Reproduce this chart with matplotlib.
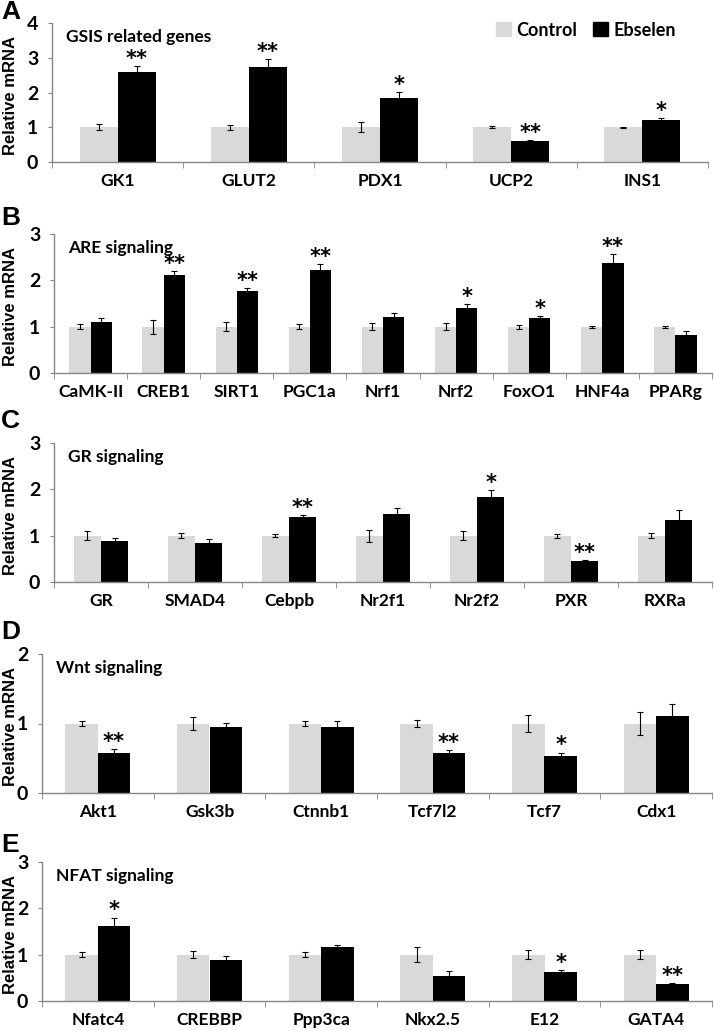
import numpy as np
import matplotlib.pyplot as plt
from matplotlib.patches import Patch

W, H = 714, 1031

# ---- data ----
genes_a = ['GK1', 'GLUT2', 'PDX1', 'UCP2', 'INS1']
ctrl_a = [1, 1, 1, 1, 1]
ctrl_err_a = [0.08, 0.07, 0.14, 0.03, 0.02]
ebs_a = [2.59, 2.73, 1.85, 0.59, 1.22]
ebs_err_a = [0.17, 0.23, 0.17, 0.04, 0.05]
sig_a = ['**', '**', '*', '**', '*']

genes_b = ['CaMK-II', 'CREB1', 'SIRT1', 'PGC1a', 'Nrf1', 'Nrf2', 'FoxO1', 'HNF4a', 'PPARg']
ctrl_b = [1, 1, 1, 1, 1, 1, 1, 1, 1]
ctrl_err_b = [0.05, 0.15, 0.1, 0.06, 0.07, 0.07, 0.04, 0.02, 0.02]
ebs_b = [1.09, 2.12, 1.77, 2.23, 1.2, 1.41, 1.19, 2.38, 0.82]
ebs_err_b = [0.1, 0.08, 0.06, 0.12, 0.1, 0.07, 0.03, 0.18, 0.08]
sig_b = ['', '**', '**', '**', '', '*', '*', '**', '']

genes_c = ['GR', 'SMAD4', 'Cebpb', 'Nr2f1', 'Nr2f2', 'PXR', 'RXRa']
ctrl_c = [1, 1, 1, 1, 1, 1, 1]
ctrl_err_c = [0.09, 0.05, 0.03, 0.13, 0.1, 0.04, 0.05]
ebs_c = [0.88, 0.84, 1.4, 1.47, 1.83, 0.45, 1.34]
ebs_err_c = [0.06, 0.08, 0.04, 0.12, 0.16, 0.03, 0.22]
sig_c = ['', '', '**', '', '*', '**', '']

genes_d = ['Akt1', 'Gsk3b', 'Ctnnb1', 'Tcf7l2', 'Tcf7', 'Cdx1']
ctrl_d = [1, 1, 1, 1, 1, 1]
ctrl_err_d = [0.04, 0.1, 0.04, 0.05, 0.12, 0.16]
ebs_d = [0.58, 0.95, 0.95, 0.57, 0.53, 1.11]
ebs_err_d = [0.05, 0.06, 0.09, 0.05, 0.05, 0.17]
sig_d = ['**', '', '', '**', '*', '']

genes_e = ['Nfatc4', 'CREBBP', 'Ppp3ca', 'Nkx2.5', 'E12', 'GATA4']
ctrl_e = [1, 1, 1, 1, 1, 1]
ctrl_err_e = [0.06, 0.07, 0.05, 0.16, 0.1, 0.09]
ebs_e = [1.61, 0.88, 1.16, 0.53, 0.62, 0.36]
ebs_err_e = [0.19, 0.1, 0.05, 0.12, 0.04, 0.03]
sig_e = ['*', '', '', '', '*', '**']

ctrl_color = '#d9d9d9'
ebs_color = '#000000'
axis_color = '#868686'
label_font = 'Lato'
arial = 'Liberation Sans'

fig = plt.figure(figsize=(W / 100, H / 100), dpi=100)


def px(x, y):
    return x / W, 1 - y / H


# panel boxes in pixels: left, right, top (ymax), bottom (y=0)
panels = [
    ('A', 'GSIS related genes', genes_a, ctrl_a, ctrl_err_a, ebs_a, ebs_err_a, sig_a, 4, (52, 708, 23, 162)),
    ('B', 'ARE signaling', genes_b, ctrl_b, ctrl_err_b, ebs_b, ebs_err_b, sig_b, 3, (54, 712, 234, 373)),
    ('C', 'GR signaling', genes_c, ctrl_c, ctrl_err_c, ebs_c, ebs_err_c, sig_c, 3, (54, 712, 443, 582)),
    ('D', 'Wnt signaling', genes_d, ctrl_d, ctrl_err_d, ebs_d, ebs_err_d, sig_d, 2, (42, 712, 654, 793)),
    ('E', 'NFAT signaling', genes_e, ctrl_e, ctrl_err_e, ebs_e, ebs_err_e, sig_e, 3, (42, 712, 862, 1001)),
]
letter_y = [12, 218, 421, 632, 845]

bw = 0.29
for k, (letter, title, genes, ctrl, cerr, ebs, eerr, sig, ymax, box) in enumerate(panels):
    l, r, t, b = box
    ax = fig.add_axes([l / W, 1 - b / H, (r - l) / W, (b - t) / H])
    x = np.arange(len(genes))
    ekw = dict(ecolor='black', elinewidth=0.8, capsize=2.5, capthick=0.8)
    ax.bar(x - bw / 2, ctrl, bw, yerr=cerr, color=ctrl_color, error_kw=ekw, label='Control')
    ax.bar(x + bw / 2, ebs, bw, yerr=eerr, color=ebs_color, error_kw=ekw, label='Ebselen')
    for i, s in enumerate(sig):
        if s:
            ax.annotate(s, xy=(x[i] + bw / 2, ebs[i] + eerr[i]), xytext=(0, -2),
                        textcoords='offset points', ha='center', va='bottom',
                        fontsize=15, fontweight='bold', family='DejaVu Sans')
    ax.set_xlim(-0.5, len(genes) - 0.5)
    ax.set_ylim(0, ymax)
    ax.set_yticks(range(ymax + 1))
    ax.set_xticks(x)
    ax.set_xticklabels(genes)
    ax.set_xticks(np.arange(len(genes) + 1) - 0.5, minor=True)
    ax.tick_params(axis='x', which='major', length=0, pad=8)
    ax.tick_params(axis='x', which='minor', length=4, color=axis_color, direction='out')
    ax.tick_params(axis='y', length=3, color=axis_color, direction='out', pad=7)
    for lab in ax.get_xticklabels():
        lab.set_fontfamily(label_font)
        lab.set_fontweight('bold')
        lab.set_fontsize(12.5)
    for lab in ax.get_yticklabels():
        lab.set_fontfamily(label_font)
        lab.set_fontweight('bold')
        lab.set_fontsize(14)
    for side in ['top', 'right']:
        ax.spines[side].set_visible(False)
    for side in ['left', 'bottom']:
        ax.spines[side].set_color(axis_color)
        ax.spines[side].set_linewidth(1)
    ax.text(*px(l + 14, t + 14), title, transform=fig.transFigure, ha='left', va='center',
            fontsize=12.5, fontweight='bold', family=label_font)
    fig.text(*px(11, (t + b) / 2 + 3), 'Relative mRNA', rotation=90, ha='center', va='center',
             fontsize=12, fontweight='bold', family=arial)
    fig.text(*px(1, letter_y[k]), letter, ha='left', va='center',
             fontsize=19, fontweight='bold', family=arial)
    if letter == 'A':
        handles = [Patch(color=ctrl_color), Patch(color=ebs_color)]
        ax.legend(handles, ['Control', 'Ebselen'], loc='center left', bbox_to_anchor=px(480, 30),
                  bbox_transform=fig.transFigure, ncol=2, frameon=False, handlelength=0.8,
                  handleheight=0.8, handletextpad=0.3, columnspacing=0.9,
                  prop={'family': label_font, 'weight': 'bold', 'size': 13})

fig.savefig('out.png', dpi=100)
